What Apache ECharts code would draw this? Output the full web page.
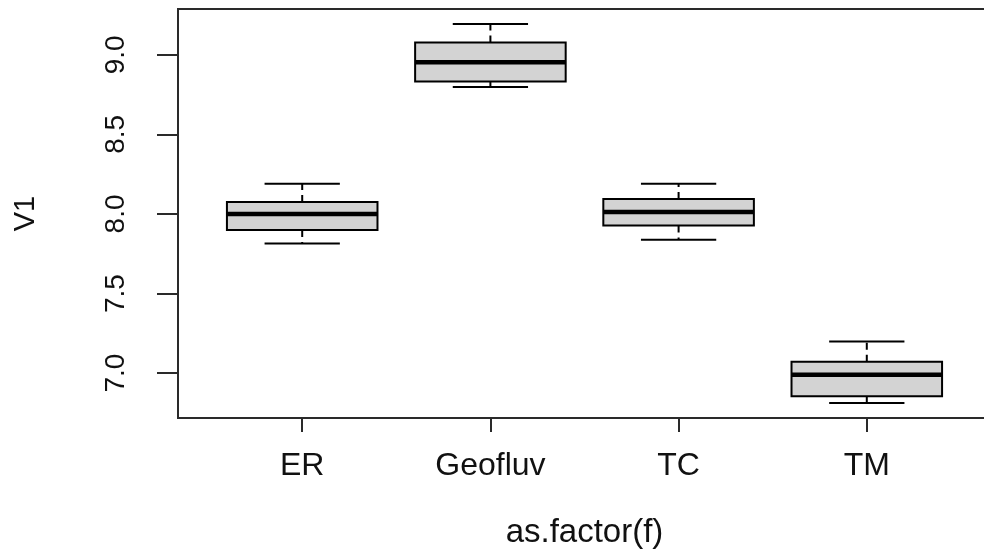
<!DOCTYPE html>
<html>
<head>
<meta charset="utf-8">
<script src="https://cdn.jsdelivr.net/npm/echarts@6/dist/echarts.min.js"></script>
<style>
  html, body { margin: 0; padding: 0; background: #ffffff; }
  #chart { width: 984px; height: 550px; }
</style>
</head>
<body>
<div id="chart"></div>
<script>
// ---- data ----
const categories   = ['ER', 'Geofluv', 'TC', 'TM'];
const whiskerLow   = [7.815, 8.798, 7.838, 6.813];
const quartile1    = [7.900, 8.832, 7.928, 6.855];
const medians      = [8.000, 8.953, 8.013, 6.990];
const quartile3    = [8.075, 9.078, 8.094, 7.072];
const whiskerHigh  = [8.190, 9.193, 8.190, 7.198];
const yTickValues  = [7.0, 7.5, 8.0, 8.5, 9.0];
const xTickValues  = [1, 2, 3, 4];
const xAxisTitle   = 'as.factor(f)';
const yAxisTitle   = 'V1';

// R-style axis extents (4% padding)
const yMin = 6.718, yMax = 9.288;
const xMin = 0.34,  xMax = 4.66;

const boxData = categories.map((c, i) => [i + 1, whiskerLow[i], quartile1[i], medians[i], quartile3[i], whiskerHigh[i]]);

const chart = echarts.init(document.getElementById('chart'), null, { renderer: 'canvas' });
const FONT = 'Liberation Sans, Arial, sans-serif';
const AX = '#2a2a2a';

chart.setOption({
  backgroundColor: '#ffffff',
  animation: false,
  grid: {
    left: 178, top: 9, right: -7, bottom: 132,
    outerBoundsMode: 'none', containLabel: false,
    show: true, borderColor: AX, borderWidth: 2, backgroundColor: 'transparent'
  },
  xAxis: {
    type: 'value', min: xMin, max: xMax,
    name: xAxisTitle, nameLocation: 'middle', nameGap: 98,
    nameTextStyle: { fontFamily: FONT, fontSize: 33, color: '#111' },
    axisLine: { show: false },
    splitLine: { show: false },
    axisTick: { show: true, length: 14, customValues: xTickValues, lineStyle: { color: AX, width: 2 } },
    axisLabel: {
      customValues: xTickValues, margin: 32,
      fontFamily: FONT, fontSize: 32, color: '#111',
      formatter: v => categories[Math.round(v) - 1] || ''
    }
  },
  yAxis: {
    type: 'value', min: yMin, max: yMax,
    name: yAxisTitle, nameLocation: 'middle', nameGap: 138, nameRotate: 90,
    nameTextStyle: { fontFamily: FONT, fontSize: 29, color: '#111' },
    axisLine: { show: false },
    splitLine: { show: false },
    axisTick: { show: true, length: 21, customValues: yTickValues, lineStyle: { color: AX, width: 2 } },
    axisLabel: {
      customValues: yTickValues, margin: 48, rotate: 90,
      fontFamily: FONT, fontSize: 28, color: '#111',
      formatter: v => Number(v).toFixed(1)
    }
  },
  series: [{
    type: 'custom',
    data: boxData,
    encode: { x: 0, y: [1, 2, 3, 4, 5] },
    clip: false,
    renderItem: function (params, api) {
      const x = api.value(0);
      const pLow = api.coord([x, api.value(1)]);
      const pQ1  = api.coord([x, api.value(2)]);
      const pMed = api.coord([x, api.value(3)]);
      const pQ3  = api.coord([x, api.value(4)]);
      const pHigh = api.coord([x, api.value(5)]);
      const halfBox = api.size([0.4, 0])[0];
      const halfCap = api.size([0.2, 0])[0];
      const cx = pMed[0];
      const lineStyle = { stroke: '#000', lineWidth: 2, fill: null };
      const dashStyle = { stroke: '#000', lineWidth: 2, lineDash: [7, 5], fill: null };
      return {
        type: 'group',
        children: [
          { type: 'line', shape: { x1: cx, y1: pQ3[1], x2: cx, y2: pHigh[1] }, style: dashStyle },
          { type: 'line', shape: { x1: cx, y1: pQ1[1], x2: cx, y2: pLow[1] }, style: dashStyle },
          { type: 'line', shape: { x1: cx - halfCap, y1: pHigh[1], x2: cx + halfCap, y2: pHigh[1] }, style: lineStyle },
          { type: 'line', shape: { x1: cx - halfCap, y1: pLow[1], x2: cx + halfCap, y2: pLow[1] }, style: lineStyle },
          { type: 'rect', shape: { x: cx - halfBox, y: pQ3[1], width: 2 * halfBox, height: pQ1[1] - pQ3[1] },
            style: { fill: '#d3d3d3', stroke: '#000', lineWidth: 2 } },
          { type: 'line', shape: { x1: cx - halfBox, y1: pMed[1], x2: cx + halfBox, y2: pMed[1] },
            style: { stroke: '#000', lineWidth: 4.5 } }
        ]
      };
    }
  }]
});
</script>
</body>
</html>
